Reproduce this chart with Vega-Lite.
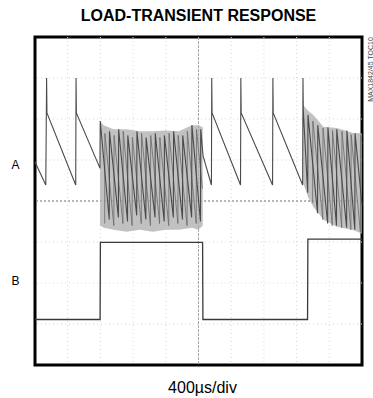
{
  "$schema": "https://vega.github.io/schema/vega-lite/v6.json",
  "width": 327,
  "height": 328,
  "autosize": "none",
  "padding": {"left": 35, "top": 37, "right": 11, "bottom": 33},
  "background": "white",
  "title": {"text": "LOAD-TRANSIENT RESPONSE", "font": "Liberation Sans", "fontSize": 16, "fontWeight": "bold", "color": "black", "anchor": "middle", "baseline": "alphabetic", "offset": 0},
  "config": {"view": {"stroke": "black", "strokeWidth": 3}, "font": "Liberation Sans"},
  "datasets": {
    "vgrid": [{"gx": 1}, {"gx": 2}, {"gx": 3}, {"gx": 4}, {"gx": 5}, {"gx": 6}, {"gx": 7}, {"gx": 8}, {"gx": 9}],
    "hgrid": [{"gy": 1}, {"gy": 2}, {"gy": 3}, {"gy": 4}, {"gy": 5}, {"gy": 6}, {"gy": 7}],
    "bursts": [
      {"t": 1.99, "lo": 3.4, "hi": 5.95, "b": 1},
      {"t": 2.1, "lo": 3.35, "hi": 5.85, "b": 1},
      {"t": 2.4, "lo": 3.3, "hi": 5.75, "b": 1},
      {"t": 2.8, "lo": 3.25, "hi": 5.75, "b": 1},
      {"t": 3.2, "lo": 3.3, "hi": 5.7, "b": 1},
      {"t": 3.6, "lo": 3.25, "hi": 5.7, "b": 1},
      {"t": 4.0, "lo": 3.3, "hi": 5.72, "b": 1},
      {"t": 4.4, "lo": 3.3, "hi": 5.7, "b": 1},
      {"t": 4.8, "lo": 3.35, "hi": 5.85, "b": 1},
      {"t": 5.0, "lo": 3.3, "hi": 5.85, "b": 1},
      {"t": 5.13, "lo": 3.4, "hi": 5.8, "b": 1},
      {"t": 8.2, "lo": 4.43, "hi": 6.34, "b": 2},
      {"t": 8.35, "lo": 4.1, "hi": 6.2, "b": 2},
      {"t": 8.51, "lo": 3.86, "hi": 6.1, "b": 2},
      {"t": 8.82, "lo": 3.54, "hi": 5.81, "b": 2},
      {"t": 9.23, "lo": 3.37, "hi": 5.78, "b": 2},
      {"t": 9.73, "lo": 3.29, "hi": 5.66, "b": 2},
      {"t": 10.0, "lo": 3.2, "hi": 5.65, "b": 2}
    ],
    "burstEcho": [
      {"t": 2.13, "v": 3.45, "b": 1}, {"t": 2.138, "v": 5.65, "b": 1}, {"t": 2.41, "v": 3.4, "b": 1},
      {"t": 2.418, "v": 5.6, "b": 1}, {"t": 2.69, "v": 3.45, "b": 1}, {"t": 2.698, "v": 5.7, "b": 1},
      {"t": 2.97, "v": 3.4, "b": 1}, {"t": 2.978, "v": 5.55, "b": 1}, {"t": 3.25, "v": 3.45, "b": 1},
      {"t": 3.258, "v": 5.65, "b": 1}, {"t": 3.53, "v": 3.4, "b": 1}, {"t": 3.538, "v": 5.6, "b": 1},
      {"t": 3.81, "v": 3.45, "b": 1}, {"t": 3.818, "v": 5.55, "b": 1}, {"t": 4.09, "v": 3.4, "b": 1},
      {"t": 4.098, "v": 5.65, "b": 1}, {"t": 4.37, "v": 3.45, "b": 1}, {"t": 4.378, "v": 5.6, "b": 1},
      {"t": 4.65, "v": 3.4, "b": 1}, {"t": 4.658, "v": 5.7, "b": 1}, {"t": 4.93, "v": 3.45, "b": 1},
      {"t": 4.938, "v": 5.75, "b": 1}, {"t": 5.12, "v": 4.3, "b": 1},
      {"t": 8.49, "v": 3.95, "b": 2}, {"t": 8.498, "v": 5.95, "b": 2}, {"t": 8.8, "v": 3.55, "b": 2},
      {"t": 8.808, "v": 5.78, "b": 2}, {"t": 9.09, "v": 3.4, "b": 2}, {"t": 9.098, "v": 5.72, "b": 2},
      {"t": 9.38, "v": 3.35, "b": 2}, {"t": 9.388, "v": 5.7, "b": 2}, {"t": 9.66, "v": 3.3, "b": 2},
      {"t": 9.668, "v": 5.62, "b": 2}, {"t": 9.95, "v": 3.25, "b": 2}, {"t": 9.958, "v": 5.6, "b": 2},
      {"t": 10.0, "v": 5.4, "b": 2}
    ],
    "traceA": [
      {"t": 0, "v": 4.95}, {"t": 0.33, "v": 4.39}, {"t": 0.355, "v": 7.0}, {"t": 0.365, "v": 6.15},
      {"t": 1.245, "v": 4.39}, {"t": 1.255, "v": 7.0}, {"t": 1.265, "v": 6.15}, {"t": 1.96, "v": 4.85},
      {"t": 1.985, "v": 4.8}, {"t": 1.995, "v": 5.95}, {"t": 2.27, "v": 3.55},
      {"t": 2.278, "v": 5.7}, {"t": 2.55, "v": 3.6},
      {"t": 2.558, "v": 5.75}, {"t": 2.83, "v": 3.5},
      {"t": 2.838, "v": 5.6}, {"t": 3.11, "v": 3.65},
      {"t": 3.118, "v": 5.7}, {"t": 3.39, "v": 3.55},
      {"t": 3.398, "v": 5.55}, {"t": 3.67, "v": 3.6},
      {"t": 3.678, "v": 5.65}, {"t": 3.95, "v": 3.5},
      {"t": 3.958, "v": 5.6}, {"t": 4.23, "v": 3.6},
      {"t": 4.238, "v": 5.7}, {"t": 4.51, "v": 3.55},
      {"t": 4.518, "v": 5.6}, {"t": 4.79, "v": 3.6},
      {"t": 4.798, "v": 5.85}, {"t": 5.06, "v": 3.5},
      {"t": 5.068, "v": 5.75}, {"t": 5.14, "v": 5.1},
      {"t": 5.395, "v": 4.39}, {"t": 5.405, "v": 7.0}, {"t": 5.415, "v": 6.15},
      {"t": 6.285, "v": 4.39}, {"t": 6.295, "v": 7.0}, {"t": 6.305, "v": 6.15},
      {"t": 7.265, "v": 4.39}, {"t": 7.275, "v": 7.0}, {"t": 7.285, "v": 6.15},
      {"t": 8.185, "v": 4.39}, {"t": 8.195, "v": 7.0}, {"t": 8.205, "v": 6.2},
      {"t": 8.34, "v": 4.2}, {"t": 8.348, "v": 6.1}, {"t": 8.64, "v": 3.7},
      {"t": 8.648, "v": 5.85}, {"t": 8.95, "v": 3.45},
      {"t": 8.958, "v": 5.8}, {"t": 9.22, "v": 3.4},
      {"t": 9.228, "v": 5.75}, {"t": 9.53, "v": 3.35},
      {"t": 9.538, "v": 5.72}, {"t": 9.78, "v": 3.3},
      {"t": 9.788, "v": 5.65}, {"t": 10.0, "v": 3.9}
    ],
    "traceB": [
      {"t": 0, "v": 1.11}, {"t": 1.99, "v": 1.11}, {"t": 2.0, "v": 2.99}, {"t": 5.125, "v": 2.99},
      {"t": 5.135, "v": 1.11}, {"t": 8.335, "v": 1.11}, {"t": 8.345, "v": 3.07}, {"t": 10.0, "v": 3.07}
    ]
  },
  "resolve": {"axis": {"x": "independent", "y": "independent"}},
  "layer": [
    {
      "data": {"name": "vgrid"},
      "mark": {"type": "rule", "color": "#d6d6d6", "strokeWidth": 1, "strokeDash": [1, 3]},
      "encoding": {
        "x": {"field": "gx", "type": "quantitative", "scale": {"domain": [0, 10], "nice": false, "zero": false},
          "axis": {"orient": "bottom", "values": [], "title": "400µs/div", "titleFont": "Liberation Sans", "titleFontSize": 16, "titleFontWeight": "normal", "titleColor": "black", "titleBaseline": "alphabetic", "titleY": 27, "titleX": 167, "titleAlign": "center", "domain": false, "ticks": false, "labels": false, "grid": false}}
      }
    },
    {
      "data": {"name": "vgrid"},
      "transform": [{"filter": "datum.gx == 5"}],
      "mark": {"type": "rule", "color": "#aaaaaa", "strokeWidth": 1, "strokeDash": [3, 1]},
      "encoding": {
        "x": {"field": "gx", "type": "quantitative", "scale": {"domain": [0, 10], "nice": false, "zero": false}, "axis": null}
      }
    },
    {
      "data": {"name": "hgrid"},
      "mark": {"type": "rule", "color": "#d6d6d6", "strokeWidth": 1, "strokeDash": [1, 3]},
      "encoding": {
        "y": {"field": "gy", "type": "quantitative", "scale": {"domain": [0, 8], "nice": false, "zero": false},
          "axis": {"orient": "left", "values": [2.05, 4.9], "labelExpr": "datum.value > 3 ? 'A' : 'B'", "labelFont": "Liberation Sans", "labelFontSize": 12, "labelColor": "black", "labelAlign": "center", "labelBaseline": "middle", "labelPadding": 20, "tickSize": 0, "ticks": false, "domain": false, "grid": false, "title": null}}
      }
    },
    {
      "data": {"name": "hgrid"},
      "transform": [{"filter": "datum.gy == 4"}],
      "mark": {"type": "rule", "color": "#777777", "strokeWidth": 1, "strokeDash": [2, 2]},
      "encoding": {
        "y": {"field": "gy", "type": "quantitative", "scale": {"domain": [0, 8], "nice": false, "zero": false}, "axis": null}
      }
    },
    {
      "data": {"name": "bursts"},
      "mark": {"type": "area", "color": "#acacac", "opacity": 0.75},
      "encoding": {
        "x": {"field": "t", "type": "quantitative", "scale": {"domain": [0, 10], "nice": false, "zero": false}, "axis": null},
        "y": {"field": "lo", "type": "quantitative", "scale": {"domain": [0, 8], "nice": false, "zero": false}, "axis": null},
        "y2": {"field": "hi"},
        "detail": {"field": "b"}
      }
    },
    {
      "data": {"name": "burstEcho"},
      "mark": {"type": "line", "color": "#6a6a6a", "strokeWidth": 1, "opacity": 0.8},
      "encoding": {
        "x": {"field": "t", "type": "quantitative", "scale": {"domain": [0, 10], "nice": false, "zero": false}, "axis": null},
        "y": {"field": "v", "type": "quantitative", "scale": {"domain": [0, 8], "nice": false, "zero": false}, "axis": null},
        "detail": {"field": "b"}
      }
    },
    {
      "data": {"name": "traceA"},
      "mark": {"type": "line", "color": "#4a4a4a", "strokeWidth": 1.1},
      "encoding": {
        "x": {"field": "t", "type": "quantitative", "scale": {"domain": [0, 10], "nice": false, "zero": false}, "axis": null},
        "y": {"field": "v", "type": "quantitative", "scale": {"domain": [0, 8], "nice": false, "zero": false}, "axis": null}
      }
    },
    {
      "data": {"name": "traceB"},
      "mark": {"type": "line", "color": "#3a3a3a", "strokeWidth": 1.3},
      "encoding": {
        "x": {"field": "t", "type": "quantitative", "scale": {"domain": [0, 10], "nice": false, "zero": false}, "axis": null},
        "y": {"field": "v", "type": "quantitative", "scale": {"domain": [0, 8], "nice": false, "zero": false},
          "axis": {"orient": "right", "values": [], "title": "MAX1842/45 TOC10", "titleFont": "Liberation Sans", "titleFontSize": 7, "titleFontWeight": "normal", "titleColor": "#444444", "titleAngle": 270, "titleAlign": "center", "titleBaseline": "middle", "titleX": 8, "titleY": 32, "domain": false, "ticks": false, "labels": false, "grid": false}}
      }
    }
  ]
}
